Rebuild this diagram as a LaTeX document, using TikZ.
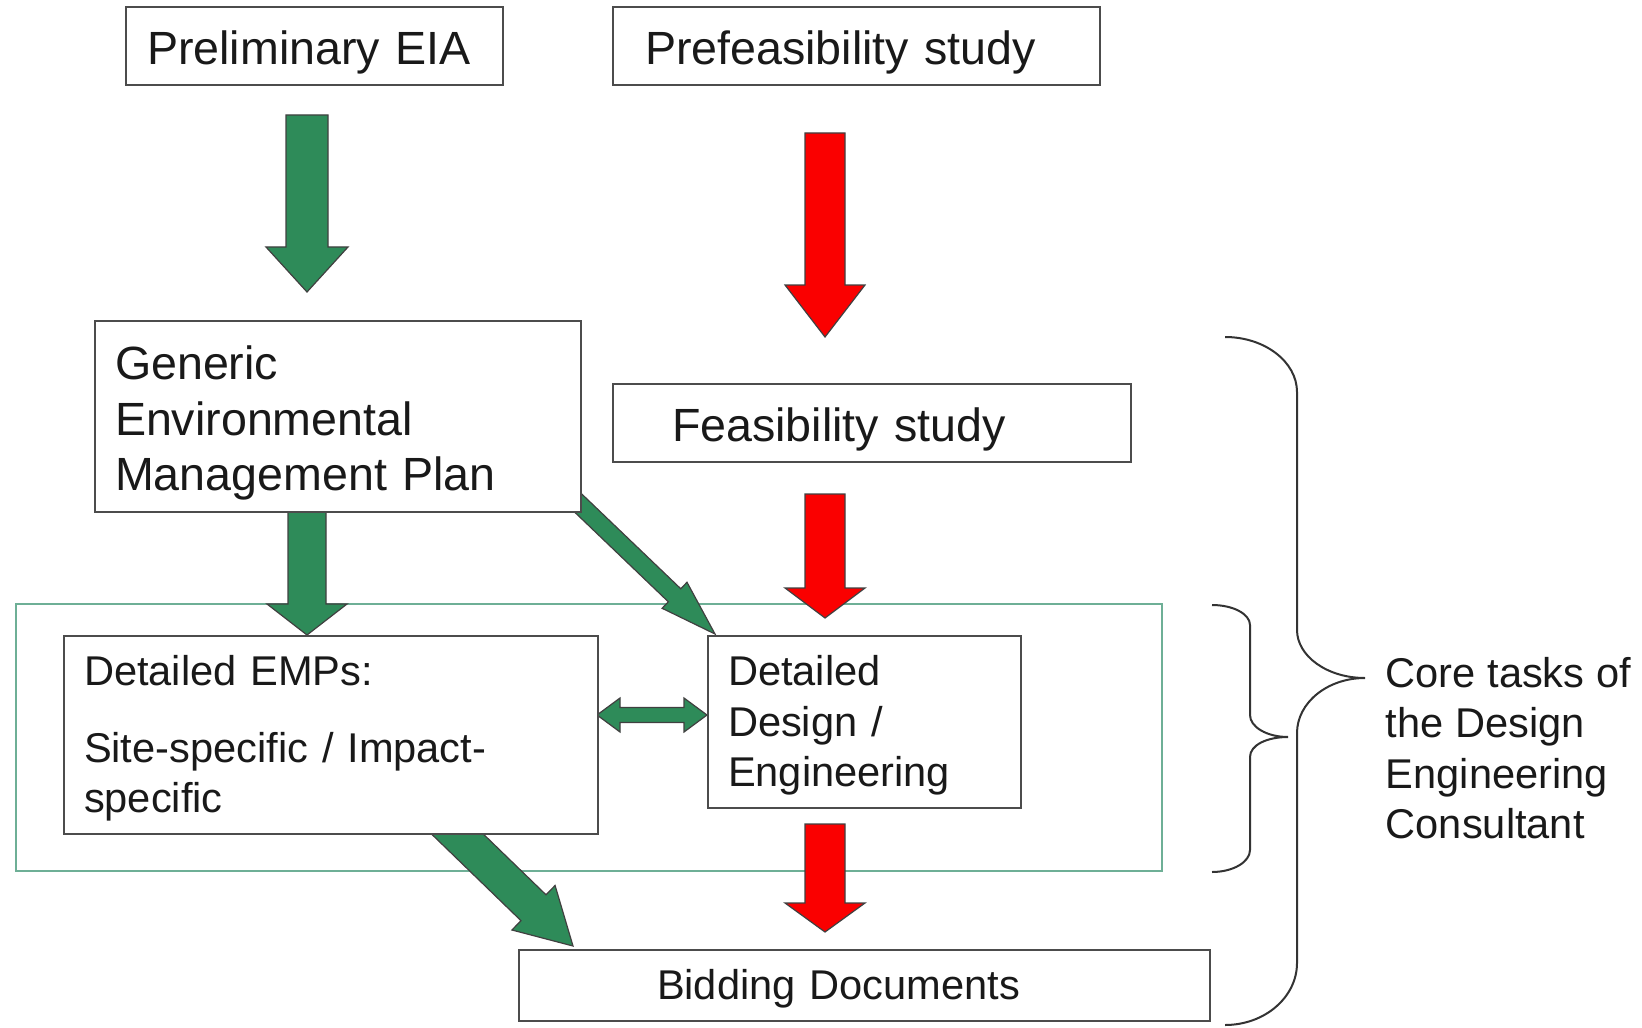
\documentclass[tikz,border=0pt]{standalone}
\usepackage{fontspec}
\setmainfont{Liberation Sans}
\usepackage{tikz}
\usetikzlibrary{calc,backgrounds}

\definecolor{arrowgreen}{RGB}{46,139,89}
\definecolor{arrowred}{RGB}{250,0,0}
\definecolor{framegreen}{RGB}{110,175,150}

\newcommand{\blockarrow}[6]{%
  \coordinate (ba-b) at ($(#3)!#6!(#2)$);
  \filldraw[#1] ($(#2)!#4!90:(#3)$) -- ($(ba-b)!#4!90:(#3)$) -- ($(ba-b)!#5!90:(#3)$) -- (#3)
    -- ($(ba-b)!#5!-90:(#3)$) -- ($(ba-b)!#4!-90:(#3)$) -- ($(#2)!#4!-90:(#3)$) -- cycle;}
\newcommand{\twinarrow}[6]{%
  \coordinate (da-a) at ($(#2)!#6!(#3)$);
  \coordinate (da-b) at ($(#3)!#6!(#2)$);
  \filldraw[#1] (#2) -- ($(da-a)!#5!90:(#3)$) -- ($(da-a)!#4!90:(#3)$) -- ($(da-b)!#4!-90:(#2)$)
    -- ($(da-b)!#5!-90:(#2)$) -- (#3) -- ($(da-b)!#5!90:(#2)$) -- ($(da-b)!#4!90:(#2)$)
    -- ($(da-a)!#4!-90:(#3)$) -- ($(da-a)!#5!-90:(#3)$) -- cycle;}

\begin{document}
\begin{tikzpicture}[x=0.5pt, y=-0.5pt, thick,
    box/.style = {draw=black!70, line width=1.2pt, fill=white, align=left, inner ysep=0pt, text=black!90},
    large/.style = {font=\fontsize{23.3}{27.8}\selectfont, execute at begin node={\rule{0pt}{23.5pt}}},
    small/.style = {font=\fontsize{20.8}{25.2}\selectfont, execute at begin node={\rule{0pt}{18.7pt}}},
    note/.style = {font=\fontsize{20.8}{25.2}\selectfont, text=black!90},
    garrow/.style = {fill=arrowgreen, draw=black!75, line width=0.6pt},
    rarrow/.style = {fill=arrowred, draw=black!75, line width=0.6pt},
    frame/.style = {draw=framegreen, line width=1.2pt},
    brace/.style = {draw=black!80, line width=1pt}]
    \useasboundingbox (0,0) rectangle (1642,1027);

    \node[box, large, minimum height=39pt, inner xsep=10.5pt, text width=167.5pt] (eia) at (314.5,46) {Preliminary EIA};
    \node[box, large, minimum height=39pt, inner xsep=16pt, text width=211.5pt] (prefeas) at (856.5,46) {Prefeasibility study};
    \node[box, large, minimum height=95.5pt, inner xsep=10pt, text width=223pt] (emp) at (338,416.5) {Generic\\Environmental\\Management Plan};
    \node[box, large, minimum height=39pt, inner xsep=29.5pt, text width=200pt] (feas) at (872,423) {Feasibility study};
    \node[box, small, minimum height=99pt, inner xsep=10pt, text width=247pt] (emps) at (331,735) {Detailed EMPs:\\[13pt]Site-specific / Impact-\\specific};
    \node[box, small, minimum height=86pt, inner xsep=10pt, text width=136.5pt] (design) at (864.5,722) {Detailed\\Design /\\Engineering};
    \node[box, small, minimum height=35.5pt, inner xsep=69pt, text width=207.5pt] (bid) at (864.5,985.5) {Bidding Documents};
    \node[note, anchor=west, align=left, inner sep=0pt] (core) at (1385,748) {Core tasks of\\the Design\\Engineering\\Consultant};

    \begin{pgfonlayer}{background}
        \node[frame, minimum width=573pt, minimum height=133.5pt] (tasks) at (589,737.5) {};
        \coordinate (g1a) at (307,115);  \coordinate (g1b) at (307,292);
        \coordinate (r1a) at (825,133);  \coordinate (r1b) at (825,337);
        \coordinate (g2a) at (307,512);  \coordinate (g2b) at (307,635);
        \coordinate (r2a) at (825,494);  \coordinate (r2b) at (825,618);
        \coordinate (r3a) at (825,824);  \coordinate (r3b) at (825,932);
        \coordinate (d1a) at (575,500);  \coordinate (d1b) at (715,634);
        \coordinate (d2a) at (445,822);  \coordinate (d2b) at (573,946);
        \coordinate (lnk1) at (597,715); \coordinate (lnk2) at (707,715);
        \blockarrow{garrow}{g1a}{g1b}{10.5pt}{20.5pt}{22.5pt}
        \blockarrow{rarrow}{r1a}{r1b}{10pt}{20pt}{26pt}
        \blockarrow{garrow}{g2a}{g2b}{9.5pt}{20pt}{15.5pt}
        \blockarrow{rarrow}{r2a}{r2b}{10pt}{20pt}{15pt}
        \blockarrow{rarrow}{r3a}{r3b}{10pt}{20pt}{14.5pt}
        \blockarrow{garrow}{d1a}{d1b}{4.5pt}{9pt}{28pt}
        \blockarrow{garrow}{d2a}{d2b}{9pt}{15.5pt}{27.5pt}
        \twinarrow{garrow}{lnk1}{lnk2}{3.75pt}{8.5pt}{11.5pt}
    \end{pgfonlayer}

    \draw[brace] (1225,337) .. controls (1265,337) and (1297,362) .. (1297,392) -- (1297,630)
        .. controls (1297,656) and (1327,678) .. (1365,678) .. controls (1327,678) and (1297,703) .. (1297,733)
        -- (1297,963) .. controls (1297,997) and (1265,1025) .. (1225,1025);
    \draw[brace] (1212,605) .. controls (1233,605) and (1250,614) .. (1250,625) -- (1250,715)
        .. controls (1250,727) and (1267,737) .. (1288,737) .. controls (1267,737) and (1250,745) .. (1250,757)
        -- (1250,850) .. controls (1250,862) and (1233,872) .. (1212,872);
\end{tikzpicture}
\end{document}
